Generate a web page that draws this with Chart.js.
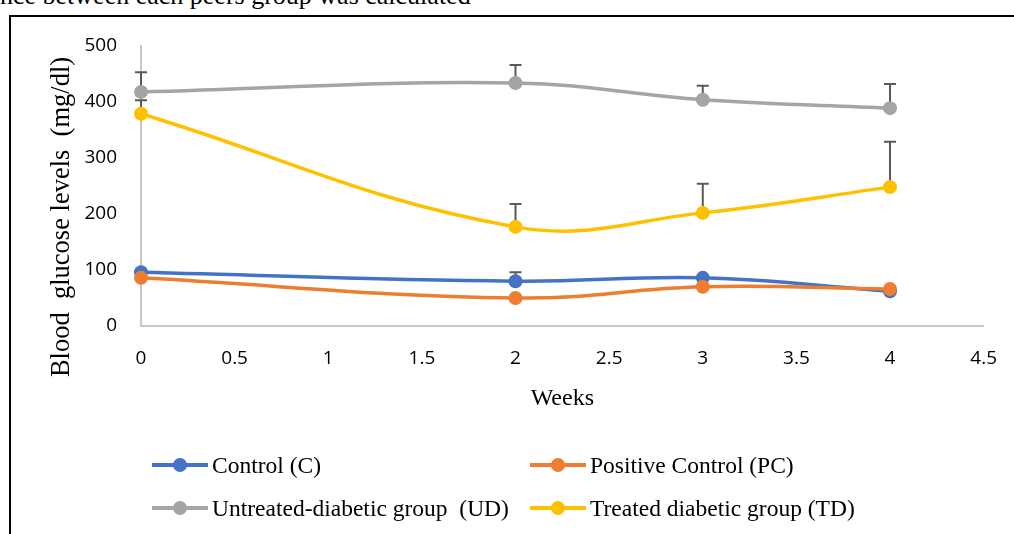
<!DOCTYPE html>
<html>
<head>
<meta charset="utf-8">
<script src="https://cdn.jsdelivr.net/npm/chart.js@4.4.1/dist/chart.umd.min.js"></script>
<style>
  html, body { margin: 0; padding: 0; background: #fff; }
  body { width: 1014px; height: 534px; position: relative; overflow: hidden; }
  #caption {
    position: absolute; left: 0; top: -19px; white-space: nowrap;
    font: 26px "Liberation Serif", "DejaVu Serif", serif; color: #000;
  }
  #frame {
    position: absolute; left: 9px; top: 15px; width: 1100px; height: 600px;
    border: 2px solid #000; box-sizing: border-box;
  }
  #chart { position: absolute; left: 0; top: 0; }
  .legend-item {
    position: absolute; display: flex; align-items: center; white-space: pre;
    font: 23.5px "Liberation Serif", serif; color: #000; height: 30px;
  }
  .legend-mark { position: relative; width: 56px; height: 16px; margin-right: 4px; }
  .legend-mark .ln { position: absolute; left: 0; right: 0; top: 6px; height: 4px; }
  .legend-mark .dot { position: absolute; left: 21px; top: 1px; width: 14px; height: 14px; border-radius: 50%; }
</style>
</head>
<body>
<div id="caption">nce between each peers group was calculated</div>
<div id="frame"></div>
<canvas id="chart" width="1018" height="534"></canvas>
<div id="legend"></div>
<script>
// weeks on the x axis
const weeks = [0, 2, 3, 4];

// blood glucose (mg/dl) per group
const controlC = [96, 80, 86, 62];
const positiveControlPC = [86, 50, 70, 66];
const untreatedUD = [418, 434, 404, 389];
const treatedTD = [379, 177, 202, 248];

// upper error bar lengths (SD)
const controlErr = [0, 16, 0, 0];
const positiveErr = [0, 0, 0, 0];
const untreatedErr = [35, 32, 25, 43];
const treatedErr = [24, 41, 52, 81];

const seriesNames = ['Control (C)', 'Positive Control (PC)', 'Untreated-diabetic group  (UD)', 'Treated diabetic group (TD)'];
const seriesColors = ['#4472C4', '#ED7D31', '#A5A5A5', '#FFC000'];

const allValues = [controlC, positiveControlPC, untreatedUD, treatedTD];
const allErrors = [controlErr, positiveErr, untreatedErr, treatedErr];

function toPoints(values) {
    return weeks.map((w, i) => ({x: w, y: values[i]}));
}

// error bars drawn under the markers
const errorBars = {
    id: 'errorBars',
    beforeDatasetsDraw(chart) {
        const ctx = chart.ctx;
        const yScale = chart.scales.y;
        ctx.save();
        ctx.strokeStyle = '#595959';
        ctx.lineWidth = 2;
        chart.data.datasets.forEach((ds, di) => {
            const meta = chart.getDatasetMeta(di);
            ds.errors.forEach((e, i) => {
                if (!e) return;
                const pt = meta.data[i];
                const yTop = yScale.getPixelForValue(ds.data[i].y + e);
                ctx.beginPath();
                ctx.moveTo(pt.x, pt.y);
                ctx.lineTo(pt.x, yTop);
                ctx.moveTo(pt.x - 6, yTop);
                ctx.lineTo(pt.x + 6, yTop);
                ctx.stroke();
            });
        });
        ctx.restore();
    }
};

// y axis title, placed like the spreadsheet version
const yTitle = {
    id: 'yTitle',
    afterDraw(chart) {
        const ctx = chart.ctx;
        const area = chart.chartArea;
        ctx.save();
        ctx.translate(area.left - 79, area.top + 171);
        ctx.rotate(-Math.PI / 2);
        ctx.font = '26.5px "Liberation Serif", serif';
        ctx.fillStyle = '#000';
        ctx.textAlign = 'center';
        ctx.textBaseline = 'middle';
        ctx.fillText('Blood  glucose levels  (mg/dl)', 0, 0);
        ctx.restore();
    }
};

const tickFont = {family: '"Open Sans", "Noto Sans", sans-serif', size: 19};

new Chart(document.getElementById('chart'), {
    type: 'line',
    data: {
        datasets: allValues.map((vals, i) => ({
            label: seriesNames[i],
            data: toPoints(vals),
            errors: allErrors[i],
            borderColor: seriesColors[i],
            backgroundColor: seriesColors[i],
            pointBackgroundColor: seriesColors[i],
            pointBorderColor: seriesColors[i],
            borderWidth: 3.5,
            pointRadius: 7,
            pointBorderWidth: 0,
            tension: 0.4,
            clip: false,
            order: 4 - i
        }))
    },
    options: {
        responsive: false,
        animation: false,
        layout: {padding: {left: 0, top: 46, right: 0, bottom: 118}},
        plugins: {legend: {display: false}, tooltip: {enabled: false}},
        scales: {
            x: {
                type: 'linear',
                min: 0,
                max: 4.5,
                ticks: {stepSize: 0.5, color: '#000', font: tickFont, padding: 21, callback: v => String(v)},
                grid: {display: false, drawTicks: false},
                border: {display: true, color: '#C8C8C8', width: 2},
                title: {
                    display: true, text: 'Weeks', color: '#000',
                    font: {family: '"Liberation Serif", serif', size: 24}, padding: {top: 1, bottom: 3}
                },
                afterFit(scale) { scale.height = 90; }
            },
            y: {
                min: 0,
                max: 500,
                ticks: {stepSize: 100, color: '#000', font: tickFont, padding: 24},
                grid: {display: false, drawTicks: false},
                border: {display: true, color: '#C8C8C8', width: 2},
                afterFit(scale) { scale.width = 141; }
            }
        }
    },
    plugins: [errorBars, yTitle]
});

// two column legend like the original
const legendSlots = [[152, 450], [530, 450], [152, 493], [530, 493]];
const legend = document.getElementById('legend');
seriesNames.forEach((name, i) => {
    const item = document.createElement('div');
    item.className = 'legend-item';
    item.style.left = legendSlots[i][0] + 'px';
    item.style.top = legendSlots[i][1] + 'px';
    item.innerHTML = '<span class="legend-mark"><span class="ln" style="background:' + seriesColors[i] +
        '"></span><span class="dot" style="background:' + seriesColors[i] + '"></span></span><span>' + name + '</span>';
    legend.appendChild(item);
});
</script>
</body>
</html>
